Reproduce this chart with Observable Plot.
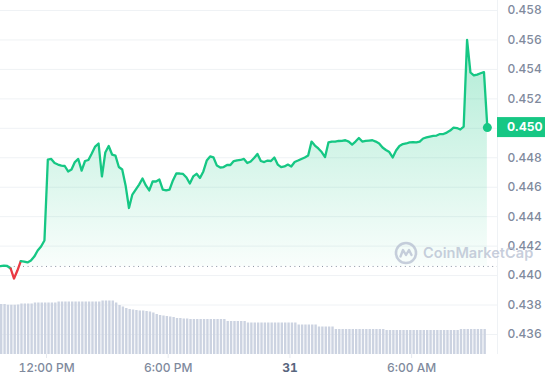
<!DOCTYPE html>
<html><head><meta charset="utf-8">
<script src="https://cdn.jsdelivr.net/npm/d3@7"></script>
<script src="https://cdn.jsdelivr.net/npm/@observablehq/plot@0.6"></script>
<style>
body{margin:0;background:#fff;font-family:Inter,"Noto Sans",sans-serif;}
#wrap{position:relative;width:545px;height:380px;overflow:hidden;background:#fff;}
#wrap svg{position:absolute;left:0;top:0;}
#wm{position:absolute;left:394px;top:241px;display:flex;align-items:center;gap:5px;color:rgba(176,185,205,0.7);font:600 14.6px Inter,sans-serif;letter-spacing:0;white-space:nowrap;}
#wm svg{position:static;}
</style></head><body><div id="wrap"></div>
<script>
// 10-minute samples, 30 Oct 09:44 UTC -> 31 Oct 09:44 UTC
const startUTC = Date.UTC(2023, 9, 30, 9, 44);
const stepMinutes = 10;
const prices = [
0.44064, 0.44068, 0.44065, 0.44048, 0.43980, 0.44034, 0.44098, 0.44095, 0.44089, 0.44102,
0.44129, 0.44170, 0.44197, 0.44238, 0.44788, 0.44792, 0.44764, 0.44754, 0.44747, 0.44744,
0.44707, 0.44720, 0.44771, 0.44792, 0.44713, 0.44778, 0.44785, 0.44829, 0.44876, 0.44897,
0.44673, 0.44836, 0.44880, 0.44822, 0.44815, 0.44737, 0.44720, 0.44612, 0.44459, 0.44550,
0.44584, 0.44618, 0.44659, 0.44612, 0.44578, 0.44639, 0.44639, 0.44652, 0.44584, 0.44578,
0.44584, 0.44646, 0.44693, 0.44693, 0.44690, 0.44666, 0.44625, 0.44673, 0.44691, 0.44663,
0.44707, 0.44781, 0.44809, 0.44802, 0.44747, 0.44734, 0.44737, 0.44751, 0.44751, 0.44778,
0.44783, 0.44785, 0.44792, 0.44764, 0.44775, 0.44798, 0.44826, 0.44778, 0.44771, 0.44781,
0.44778, 0.44802, 0.44754, 0.44736, 0.44741, 0.44754, 0.44741, 0.44771, 0.44781, 0.44792,
0.44802, 0.44815, 0.44910, 0.44883, 0.44863, 0.44839, 0.44805, 0.44904, 0.44910, 0.44910,
0.44914, 0.44915, 0.44919, 0.44910, 0.44890, 0.44910, 0.44934, 0.44910, 0.44915, 0.44917,
0.44919, 0.44910, 0.44897, 0.44870, 0.44853, 0.44839, 0.44802, 0.44849, 0.44880, 0.44893,
0.44897, 0.44904, 0.44906, 0.44904, 0.44910, 0.44931, 0.44938, 0.44944, 0.44948, 0.44951,
0.44961, 0.44961, 0.44971, 0.44985, 0.45005, 0.45002, 0.44992, 0.45012, 0.45600, 0.45379,
0.45359, 0.45365, 0.45374, 0.45382, 0.45005
];
// volume per 10-minute bar (relative units)
const volumes = [
200, 200, 197, 197, 197, 198, 202, 202, 202, 202,
206, 206, 206, 206, 206, 206, 206, 210, 210, 210,
210, 210, 210, 210, 210, 210, 210, 210, 210, 210,
214, 214, 214, 214, 206, 196, 190, 184, 180, 178,
176, 174, 174, 172, 170, 166, 160, 156, 154, 152,
150, 148, 144, 144, 142, 142, 140, 140, 140, 140,
140, 140, 140, 140, 140, 140, 140, 132, 132, 132,
132, 132, 132, 126, 126, 126, 126, 126, 126, 126,
126, 126, 126, 126, 126, 126, 126, 126, 118, 118,
118, 118, 118, 118, 110, 110, 110, 110, 110, 100,
100, 100, 100, 100, 100, 100, 100, 100, 100, 100,
100, 100, 100, 100, 96, 96, 96, 96, 96, 96,
96, 96, 96, 96, 96, 96, 96, 96, 96, 96,
96, 96, 96, 96, 96, 96, 100, 100, 100, 100,
100, 100, 100, 100
];
const openPrice = 0.44062;
const yTicks = [0.436, 0.438, 0.440, 0.442, 0.444, 0.446, 0.448, 0.450, 0.452, 0.454, 0.456, 0.458];
const xTickTimes = ["2023-10-30T12:00Z", "2023-10-30T18:00Z", "2023-10-31T00:00Z", "2023-10-31T06:00Z"];
const xTickLabels = ["12:00 PM", "6:00 PM", "31", "6:00 AM"];
const lastLabel = "0.450";

const GREEN = "#16c784", RED = "#ea3943";
const dates = prices.map((_, i) => new Date(startUTC + i * stepMinutes * 60000));
const data = prices.map((p, i) => ({date: dates[i], price: p}));
const volData = volumes.map((v, i) => ({start: dates[i], end: dates[i + 1], vol: v}));
const xTickDates = xTickTimes.map(s => new Date(s));
const labelOf = new Map(xTickDates.map((d, i) => [+d, xTickLabels[i]]));
const xDomain = [new Date(startUTC), new Date(Date.UTC(2023, 9, 31, 10, 14))];
const yDomain = [0.43464, 0.45868];
const common = {width: 545, height: 380, marginTop: 0, marginBottom: 26, marginLeft: 0, marginRight: 48};

const priceChart = Plot.plot({
  ...common,
  style: {fontFamily: "Inter, sans-serif", fontSize: "12px", color: "#808a9d", background: "#fff", overflow: "visible"},
  x: {type: "utc", domain: xDomain, label: null},
  y: {domain: yDomain, label: null},
  marks: [
    Plot.gridY(yTicks, {stroke: "#eff2f5", strokeOpacity: 1}),
    Plot.ruleX([xDomain[1]], {stroke: "#eff2f5", strokeOpacity: 1}),
    Plot.axisY(yTicks, {anchor: "right", label: null, tickSize: 0, tickPadding: 10, tickFormat: d => d.toFixed(3), fontWeight: 500, fill: "#808a9d"}),
    Plot.axisX(xTickDates, {anchor: "bottom", label: null, tickSize: 4, tickPadding: 5, stroke: "#e6e9ef", tickFormat: d => labelOf.get(+d), fontWeight: 500, fill: "#808a9d"}),
    Plot.areaY(data, {x: "date", y1: openPrice, y2: "price", fill: "url(#pgrad)"}),
    Plot.ruleY([openPrice], {stroke: "#8b93a3", strokeDasharray: "1,3.6", strokeWidth: 1}),
    Plot.line(data, {x: "date", y: "price", z: null, stroke: d => d.price < openPrice ? RED : GREEN, strokeWidth: 2.3, strokeLinejoin: "round", strokeLinecap: "round"}),
    Plot.dot([data[data.length - 1]], {x: "date", y: "price", r: 4.5, fill: GREEN})
  ]
});

const volChart = Plot.plot({
  ...common,
  style: {background: "transparent"},
  x: {type: "utc", domain: xDomain, axis: null},
  y: {domain: [0, 240], range: [354, 294], axis: null},
  marks: [
    Plot.rectY(volData, {x1: "start", x2: "end", y: "vol", fill: "#ccd3e1", insetRight: 1})
  ]
});

// gradient for area
const NS = "http://www.w3.org/2000/svg";
const defs = document.createElementNS(NS, "defs");
defs.innerHTML = `<linearGradient id="pgrad" x1="0" y1="0" x2="0" y2="1">
  <stop offset="0" stop-color="${GREEN}" stop-opacity="0.34"/>
  <stop offset="1" stop-color="${GREEN}" stop-opacity="0.01"/></linearGradient>`;
priceChart.insertBefore(defs, priceChart.firstChild);

// bold day label
priceChart.querySelectorAll("text").forEach(t => {
  if (t.textContent === "31") { t.setAttribute("font-weight", "700"); t.setAttribute("fill", "#58667e"); }
});

// last price badge
const last = prices[prices.length - 1];
const yc = priceChart.scale("y").apply(last);
const xr = priceChart.scale("x").apply(xDomain[1]);
const g = document.createElementNS(NS, "g");
g.innerHTML = `<rect x="${xr}" y="${yc - 10}" width="${545 - xr}" height="20" fill="${GREEN}"/>
<text x="${xr + 10}" y="${yc}" dy="0.35em" text-anchor="start" fill="#fff" font-weight="700" font-size="12" font-family="Inter, sans-serif">${lastLabel}</text>`;
priceChart.appendChild(g);

const wrap = document.getElementById("wrap");
wrap.appendChild(priceChart);
wrap.appendChild(volChart);

const wm = document.createElement("div");
wm.id = "wm";
wm.innerHTML = `<svg width="24" height="24" viewBox="0 0 24 24"><circle cx="12" cy="12" r="10" fill="none" stroke="rgba(176,185,205,0.7)" stroke-width="2.6"/><path d="M6.5 15.5 L9 9 L12 14 L15 9 L17.5 14" fill="none" stroke="rgba(176,185,205,0.7)" stroke-width="2.4" stroke-linejoin="round" stroke-linecap="round"/></svg><span>CoinMarketCap</span>`;
wrap.appendChild(wm);
</script></body></html>
